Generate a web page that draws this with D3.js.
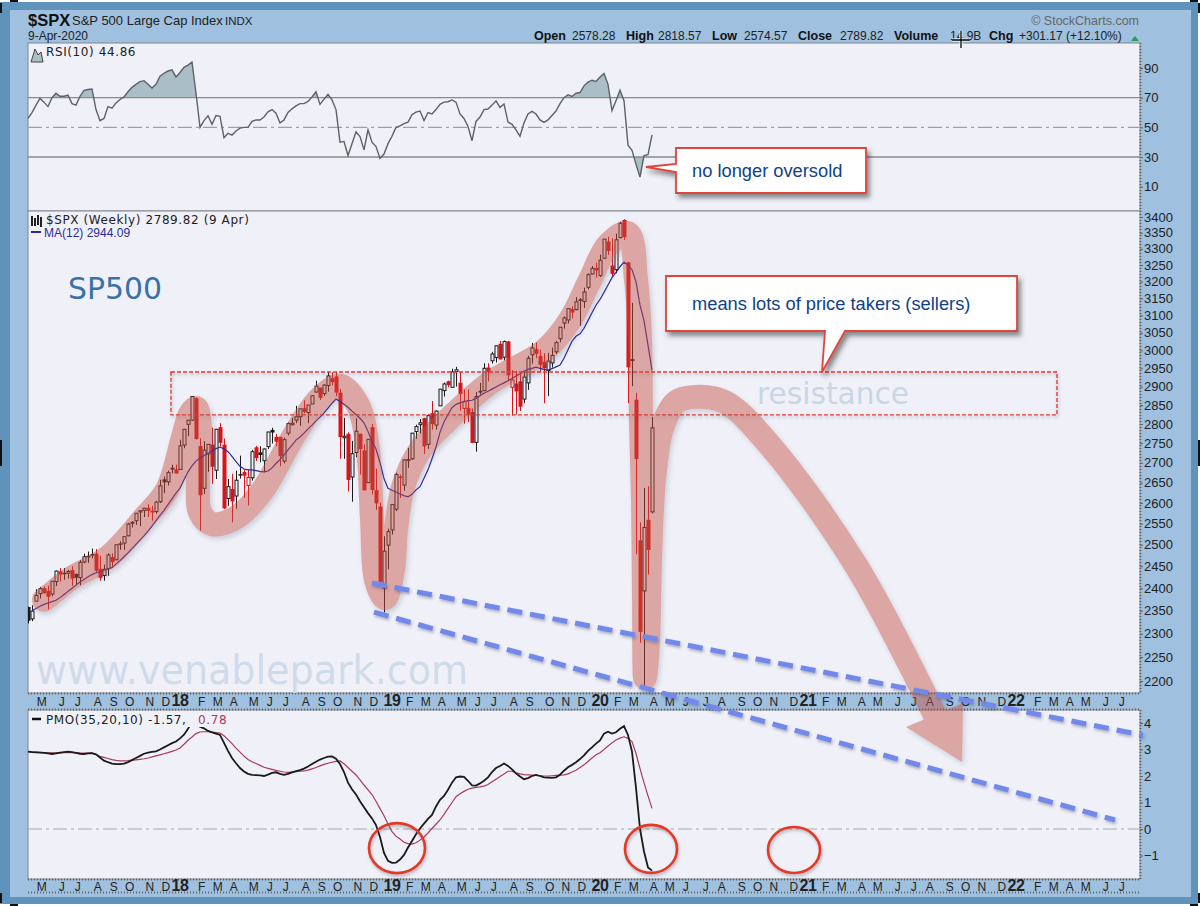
<!DOCTYPE HTML>
<html>
	<head>
		<title>$SPX weekly</title>
		<script src="https://cdnjs.cloudflare.com/ajax/libs/d3/7.8.5/d3.min.js" charset="utf-8"></script>
		<style type="text/css">
			html, body { margin: 0; background: #fff; }
			svg { display: block; }
			text { font-family: 'Liberation Sans', Arial, sans-serif; }
			.axis text { font-size: 13px; fill: #222; }
			.axis line { stroke: #666; }
			.axis path { display: none; }
			.months text { font-size: 12px; fill: #222; letter-spacing: 0.5px; }
			.months text.year { font-size: 16px; font-weight: bold; letter-spacing: -0.5px; }
			.legend { font-family: 'DejaVu Sans', sans-serif; font-size: 12px; letter-spacing: 0.6px; fill: #222; }
		</style>
	</head>
	<body>
	<svg id="chart" width="1200" height="906"></svg>

	<script type="text/javascript">
		// weekly bars, 10 Apr 2017 to 6 Apr 2020 (rows: 2017, 2018, 2019, 2020)
		var opens = [
			2357,2332,2371,2388,2399,2393,2387,2415,2437,2434,2434,2440,2431,2424,2460,2473,2477,2478,2443,2429,2445,2470,2465,2502,2504,2521,2551,2557,2578,2582,2587,2580,2579,2603,2657,2652,2686,2682,
			2683,2745,2799,2810,2867,2741,2636,2722,2745,2681,2790,2745,2611,2633,2617,2670,2675,2643,2662,2738,2725,2705,2741,2783,2765,2765,2704,2776,2798,2810,2819,2840,2830,2853,2885,2896,2881,2903,2921,2926,2882,2764,2773,2664,2726,2773,2730,2650,2790,2630,2590,2400,2499,
			2535,2585,2664,2644,2706,2710,2780,2798,2814,2747,2827,2797,2848,2889,2913,2898,2941,2909,2841,2841,2830,2752,2885,2889,2951,2971,2980,3017,2981,3024,2898,2907,2913,2866,2910,2988,3002,2983,2967,2944,2965,2996,3033,3078,3087,3117,3117,3144,3141,3183,3223,3240,
			3218,3271,3321,3247,3236,3335,3389,3257,2974,2863,2509,2394,2558,2578.28];
		var highs = [
			2359,2362,2398,2403,2404,2406,2416,2440,2446,2446,2442,2450,2434,2464,2479,2484,2491,2490,2474,2454,2480,2480,2500,2508,2519,2552,2556,2575,2582,2588,2597,2593,2605,2657,2665,2680,2695,2695,
			2759,2787,2810,2873,2870,2763,2755,2747,2790,2787,2802,2762,2659,2672,2680,2718,2683,2683,2733,2743,2742,2736,2779,2790,2774,2765,2764,2804,2816,2848,2841,2863,2850,2877,2916,2896,2906,2940,2939,2940,2894,2816,2778,2756,2815,2775,2747,2760,2800,2685,2601,2520,2538,
			2597,2675,2670,2709,2738,2776,2798,2813,2816,2826,2861,2836,2893,2911,2916,2949,2954,2940,2892,2892,2841,2885,2910,2964,2964,2996,3013,3027,3028,3027,2945,2943,2939,2940,2985,3021,3022,3002,2992,2993,3008,3027,3066,3097,3120,3127,3154,3151,3182,3225,3247,3258,
			3282,3330,3338,3333,3347,3385,3393,3260,3137,2883,2553,2637,2641,2818.57];
		var lows = [
			2322,2327,2371,2377,2388,2353,2382,2405,2415,2419,2422,2405,2407,2407,2457,2458,2468,2437,2417,2417,2428,2446,2464,2488,2488,2520,2541,2547,2544,2566,2566,2557,2574,2600,2624,2643,2673,2673,
			2682,2737,2768,2808,2759,2533,2622,2677,2647,2659,2741,2585,2593,2553,2586,2660,2612,2594,2655,2704,2701,2676,2735,2749,2742,2691,2698,2770,2796,2802,2795,2828,2802,2853,2884,2864,2874,2886,2903,2874,2710,2710,2628,2603,2714,2670,2631,2649,2621,2583,2408,2346,2443,
			2524,2580,2612,2630,2687,2707,2761,2775,2722,2735,2785,2785,2848,2873,2898,2898,2900,2835,2801,2805,2750,2728,2878,2887,2914,2963,2966,2975,2972,2914,2822,2825,2834,2855,2891,2963,2978,2938,2855,2874,2952,2990,3023,3062,3077,3091,3115,3070,3122,3177,3222,3212,
			3214,3270,3281,3214,3225,3332,3328,2855,2901,2478,2280,2191,2431,2574.57];
		var closes = [
			2329,2349,2384,2399,2390,2382,2416,2439,2432,2433,2438,2423,2425,2459,2472,2472,2477,2441,2425,2443,2476,2461,2500,2502,2519,2549,2553,2575,2581,2587,2582,2578,2602,2642,2652,2675,2684,2674,
			2743,2786,2810,2873,2762,2620,2732,2747,2691,2786,2752,2588,2640,2605,2656,2670,2669,2663,2728,2713,2721,2735,2779,2779,2755,2718,2759,2801,2802,2819,2840,2833,2850,2875,2901,2871,2904,2929,2914,2885,2767,2768,2658,2723,2781,2736,2632,2760,2633,2600,2416,2485,2531,
			2596,2670,2664,2707,2708,2776,2793,2803,2743,2822,2801,2834,2893,2907,2905,2940,2946,2881,2860,2826,2752,2873,2887,2950,2941,2990,3013,2976,3025,2932,2918,2888,2847,2926,2978,3007,2992,2961,2952,2970,2986,3022,3066,3093,3120,3110,3140,3146,3169,3221,3240,3235,
			3265,3330,3295,3225,3328,3380,3338,2954,2972,2711,2305,2541,2489,2789.82];

		var ma12 = [
			null,2350,2355,2360,2364,2367,2370,2373,2379,2386,2393,2400,2407,2414,2420,2426,2431,2435,2438,2441,
			2444,2447,2455,2463,2472,2481,2491,2501,2511,2521,2532,2544,2557,2570,2582,2596,2610,2624,2636,2657,
			2677,2692,2704,2712,2718,2724,2730,2736,2740,2735,2728,2716,2703,2691,2684,2682,2682,2680,2678,2677,
			2679,2687,2698,2708,2720,2733,2745,2758,2766,2776,2787,2797,2808,2818,2829,2842,2855,2866,2860,2852,
			2844,2834,2825,2815,2803,2780,2755,2735,2700,2660,2636,2631,2627,2622,2618,2615,2621,2632,2640,2661,
			2682,2710,2740,2778,2805,2825,2843,2852,2856,2859,2862,2863,2868,2875,2882,2887,2893,2899,2905,2910,
			2916,2922,2929,2935,2942,2947,2950,2953,2950,2947,2945,2949,2954,2959,2978,3002,3026,3040,3047,3063,
			3085,3108,3130,3147,3168,3190,3212,3228,3245,3259,3250,3236,3200,3130,3085,3015,2944.09];

		var rsi10 = [
			56,60,65,69.5,67,64,70,73,71,71,71.8,66,65,71,75,75.5,75.8,62,54.5,56,
			64,63,66.5,68.8,70.5,74,77,79,80.8,81.5,79,76.5,79,84.5,86.5,88,88.8,84,87,90.5,
			92,94,73,50,54.5,57.8,52,58,57.5,43,46,44.8,47.5,49.5,50,50,54,55,55,57,
			60.5,62,59.5,53,55,60,62.5,64.5,66,66,67.5,70.5,74,65.5,69,72.3,68.5,62,40,40.5,
			31,39,47,43.8,34.8,48.3,40,37,29,32,39,44,50,51,52.5,53.5,58.5,60.3,61,54.6,
			60,59,62,65.5,67,67.3,68.5,67,59,56,50.6,41,54,57,62,62.4,65,67.8,63.5,65.8,
			53.5,52,48.3,44,53,59,60.8,59,55,53.3,55,58,61,66,70,72,70.8,73,73.5,78,
			80.5,81.8,81,84,86.3,79,61.3,68,75,68,38,34.5,25,16.4,31,31.6,44.86];
		var rsiTicks = [90, 70, 50, 30, 10];

		var pmoLine = [
			2.92,2.9,2.89,2.88,2.87,2.85,2.83,2.85,2.88,2.9,2.92,2.9,2.87,2.84,2.83,2.85,2.86,2.82,2.7,2.58,
			2.52,2.47,2.45,2.45,2.47,2.52,2.6,2.68,2.76,2.84,2.88,2.91,2.93,3.0,3.08,3.16,3.24,3.3,3.42,3.56,
			3.78,4.05,4.25,3.86,3.8,3.7,3.65,3.6,3.55,3.25,2.95,2.68,2.48,2.3,2.17,2.08,2.04,2.03,2.02,2.0,
			2.05,2.12,2.14,2.08,2.04,2.08,2.14,2.18,2.22,2.28,2.36,2.45,2.54,2.62,2.68,2.73,2.74,2.65,2.45,2.15,
			1.75,1.5,1.3,1.05,0.82,0.6,0.4,0.15,-0.3,-0.9,-1.2,-1.28,-1.27,-1.15,-0.98,-0.7,-0.45,-0.2,0.02,0.2,
			0.38,0.53,0.85,1.1,1.25,1.48,1.75,1.95,1.98,1.97,1.82,1.65,1.64,1.72,1.82,1.95,2.15,2.3,2.38,2.47,
			2.38,2.25,2.1,1.98,1.88,1.92,2.0,2.04,2.0,1.95,1.94,1.93,1.95,2.05,2.2,2.33,2.42,2.52,2.64,2.78,
			2.95,3.08,3.22,3.34,3.6,3.67,3.6,3.65,3.78,3.88,3.55,2.92,1.55,0.0,-0.85,-1.45,-1.57];
		var pmoSignal = [
			2.92,2.91,2.9,2.89,2.88,2.87,2.87,2.87,2.87,2.88,2.88,2.88,2.87,2.86,2.86,2.86,2.86,2.8,2.74,2.7,
			2.66,2.62,2.59,2.57,2.57,2.58,2.6,2.61,2.63,2.65,2.68,2.72,2.76,2.8,2.84,2.88,2.93,2.98,3.06,3.2,
			3.35,3.47,3.6,3.66,3.67,3.67,3.66,3.64,3.62,3.52,3.37,3.22,3.05,2.9,2.75,2.62,2.54,2.47,2.4,2.33,
			2.29,2.25,2.21,2.18,2.15,2.14,2.15,2.16,2.18,2.19,2.22,2.27,2.32,2.38,2.44,2.48,2.52,2.55,2.57,2.46,
			2.32,2.18,2.04,1.85,1.66,1.48,1.3,1.05,0.77,0.5,0.2,-0.1,-0.27,-0.38,-0.5,-0.55,-0.57,-0.52,-0.42,-0.3,
			-0.15,0.02,0.18,0.34,0.55,0.78,1.0,1.22,1.33,1.42,1.5,1.54,1.57,1.59,1.62,1.68,1.78,1.88,1.98,2.08,
			2.18,2.18,2.12,2.08,2.05,2.04,2.03,2.02,2.01,2.0,2.0,2.01,2.02,2.03,2.04,2.08,2.15,2.22,2.32,2.42,
			2.55,2.68,2.8,2.88,3.0,3.13,3.25,3.36,3.43,3.48,3.42,3.3,2.85,2.28,1.75,1.25,0.78];
		var pmoTicks = [4, 3, 2, 1, 0, -1];
		var priceTicks = d3.range(2200, 3401, 50);

		// annotations drawn on top of the chart, as [week number, price]
		var bandPath = [[4,2374],[7,2396],[11,2424],[20,2471],[29.25,2566],[34.75,2632],[38.75,2766],[40.5,2826],[42,2842],[43,2784],[42.5,2657],[43,2578],[46,2549],[52.25,2566],[58.5,2629],[66.25,2766],[73,2869],[78,2902],[82.5,2850],[85,2732],[86,2559],[87,2419],[89.25,2378],[91.25,2442],[92,2535],[93.75,2639],[98,2732],[106,2821],[115.5,2910],[129.25,3001],[135.5,3087],[140.5,3205],[145,3312],[150,3349],[152,3205],[153,3029],[153.25,2810],[153.75,2607],[154,2374],[154.25,2208],[155,2286],[155.5,2465],[156.5,2657],[158.5,2789],[162,2858],[166.75,2872],[174.25,2858],[185,2750],[207.25,2448],[229.25,2090]];
		var arrowHead = [[219.5,2107],[233.5,2039],[233.75,2155]];
		var trendLines = [[[86,2412],[278.75,2091]], [[86.5,2347],[271.75,1931]]];
		var resistanceZone = {from: 35.75, to: 257.25, top: 2940, bottom: 2824};
		var pmoCircles = [[92.25,-0.72,28,25], [155.75,-0.75,26,24], [191.5,-0.79,26,23]];

		var headerLabels = ["Open", "High", "Low", "Close", "Volume", "Chg"];
		var headerValues = ["2578.28", "2818.57", "2574.57", "2789.82", "14.9B", "+301.17 (+12.10%)"];
		var headerX = [534, 626, 712, 798, 894, 989];
		var headerValueX = [572, 658, 744, 840, 950, 1019];

		var LEFT = 28, RIGHT = 1140;
		var RSI_TOP = 43, RSI_BOTTOM = 211;
		var PRICE_BOTTOM = 693;
		var PMO_TOP = 710, PMO_BOTTOM = 879;

		var svg = d3.select("#chart");
		var defs = svg.append("defs");

		var shadow = defs.append("filter").attr("id", "shadow")
			.attr("x", "-10%").attr("y", "-10%").attr("width", "125%").attr("height", "125%")
			.attr("filterUnits", "objectBoundingBox");
		shadow.append("feDropShadow").attr("dx", 2).attr("dy", 3).attr("stdDeviation", 2.5)
			.attr("flood-color", "#444a66").attr("flood-opacity", 0.45);
		var lineShadow = defs.append("filter").attr("id", "shadow-line").attr("filterUnits", "userSpaceOnUse")
			.attr("x", 0).attr("y", 0).attr("width", 1200).attr("height", 906);
		lineShadow.append("feDropShadow").attr("dx", 1).attr("dy", 2).attr("stdDeviation", 1.5)
			.attr("flood-color", "#444a66").attr("flood-opacity", 0.4);
		var boxShadow = defs.append("filter").attr("id", "shadow-box").attr("filterUnits", "userSpaceOnUse")
			.attr("x", 0).attr("y", 0).attr("width", 1200).attr("height", 906);
		boxShadow.append("feDropShadow").attr("dx", 3).attr("dy", 4).attr("stdDeviation", 2.5)
			.attr("flood-color", "#333").attr("flood-opacity", 0.55);
		defs.append("clipPath").attr("id", "price-panel").append("rect")
			.attr("x", LEFT).attr("y", RSI_BOTTOM).attr("width", RIGHT - LEFT).attr("height", PRICE_BOTTOM - RSI_BOTTOM);

		// scales
		var firstWeek = new Date(2017, 3, 10);
		var x = d3.scaleTime().domain([firstWeek, d3.timeMonday.offset(firstWeek, 278)]).range([LEFT, RIGHT]);
		var xWeek = d3.scaleLinear().domain([0, 278]).range([LEFT, RIGHT]);
		var yRsi = d3.scaleLinear().domain([70, 30]).range([97.7, 157]);
		var yPrice = d3.scaleLog().domain([3400, 2200]).range([217, 681]);
		var yPmo = d3.scaleLinear().domain([4, -1]).range([723, 855.5]);

		// frame
		svg.append("rect").attr("x", 0).attr("y", 2).attr("width", 1198).attr("height", 902).attr("fill", "#5f93bb");
		svg.append("rect").attr("x", 10).attr("y", 10).attr("width", 1181).attr("height", 887).attr("fill", "#9fc0df");

		// panels
		[[RSI_TOP, RSI_BOTTOM], [RSI_BOTTOM, PRICE_BOTTOM], [PMO_TOP, PMO_BOTTOM]].forEach(function (p) {
			svg.append("rect").attr("x", LEFT).attr("y", p[0]).attr("width", RIGHT - LEFT).attr("height", p[1] - p[0])
				.attr("fill", "#f0f1f8").attr("stroke", "#80858f").attr("stroke-width", 1);
		});

		// right-hand axes
		function rightAxis(scale, ticks, fmt) {
			var g = svg.append("g").attr("class", "axis").attr("transform", "translate(" + RIGHT + ",0)")
				.call(d3.axisRight(scale).tickValues(ticks).tickSize(3).tickPadding(1).tickFormat(fmt));
			return g;
		}
		rightAxis(yRsi, rsiTicks, d3.format("d"));
		rightAxis(yPrice, priceTicks, d3.format("d"));
		rightAxis(yPmo, pmoTicks, d3.format("d"));
		[[RSI_TOP, PRICE_BOTTOM], [PMO_TOP, PMO_BOTTOM]].forEach(function (p) {
			svg.append("line").attr("x1", RIGHT + 0.5).attr("x2", RIGHT + 0.5).attr("y1", p[0]).attr("y2", p[1])
				.attr("stroke", "#666").attr("stroke-width", 2).attr("stroke-dasharray", "1,2");
		});

		// month bands
		var monthStarts = d3.timeMonth.range(new Date(2017, 4, 1), new Date(2022, 6, 2));
		var monthLetter = d3.timeFormat("%b");
		var yearFormat = d3.timeFormat("%y");
		function monthAxis(top) {
			var height = top == PRICE_BOTTOM ? PMO_TOP - PRICE_BOTTOM : 14;
			[top + 0.5, top + height - 0.5].forEach(function (yy) {
				svg.append("line").attr("x1", LEFT).attr("x2", RIGHT).attr("y1", yy).attr("y2", yy)
					.attr("stroke", "#666").attr("stroke-width", 2).attr("stroke-dasharray", "1,2");
			});
			var g = svg.append("g").attr("class", "months");
			g.selectAll("text").data(monthStarts).enter().append("text")
				.attr("class", function (d) { return d.getMonth() == 0 ? "year" : "month"; })
				.attr("text-anchor", "middle")
				.attr("x", function (d) {
					return x(d3.timeMonday.ceil(d)) + (d.getMonth() == 0 ? 0 : 2);
				})
				.attr("y", top == PRICE_BOTTOM ? top + 13 : top + 12)
				.text(function (d) { return d.getMonth() == 0 ? yearFormat(d) : monthLetter(d)[0]; });
		}
		monthAxis(PRICE_BOTTOM);
		monthAxis(PMO_BOTTOM);

		// watermark and big labels
		svg.append("text").attr("x", 36).attr("y", 684).attr("textLength", 432).attr("lengthAdjust", "spacingAndGlyphs")
			.style("font-family", "'DejaVu Sans'").style("font-size", "40px").attr("fill", "#cfdbe9").text("www.venablepark.com");
		svg.append("text").attr("x", 68).attr("y", 299).attr("textLength", 94).attr("lengthAdjust", "spacingAndGlyphs")
			.style("font-family", "'DejaVu Sans'").style("font-size", "30px").attr("fill", "#3a72a8").text("SP500");

		// RSI
		var weekIdx = d3.range(closes.length);
		var rsiClip = defs.append("clipPath").attr("id", "rsi-over");
		rsiClip.append("rect").attr("x", LEFT).attr("width", RIGHT - LEFT).attr("y", RSI_TOP).attr("height", yRsi(70) - RSI_TOP);
		var rsiClip2 = defs.append("clipPath").attr("id", "rsi-under");
		rsiClip2.append("rect").attr("x", LEFT).attr("width", RIGHT - LEFT).attr("y", yRsi(30)).attr("height", RSI_BOTTOM - yRsi(30));
		[["rsi-over", 70], ["rsi-under", 30]].forEach(function (c) {
			svg.append("path").attr("clip-path", "url(#" + c[0] + ")").attr("fill", "#a9bec6")
				.attr("d", d3.area().x(function (i) { return xWeek(i); }).y0(yRsi(c[1]))
					.y1(function (i) { return yRsi(rsi10[i]); })(weekIdx));
		});
		[70, 30].forEach(function (v) {
			svg.append("line").attr("x1", LEFT).attr("x2", RIGHT).attr("y1", yRsi(v)).attr("y2", yRsi(v))
				.attr("stroke", "#8a8a8a").attr("stroke-width", 1.3);
		});
		svg.append("line").attr("x1", LEFT).attr("x2", RIGHT).attr("y1", yRsi(50)).attr("y2", yRsi(50))
			.attr("stroke", "#a0a0a0").attr("stroke-width", 1.2).attr("stroke-dasharray", "14,4,3,4");
		svg.append("path").attr("fill", "none").attr("stroke", "#5c6266").attr("stroke-width", 1.4)
			.attr("d", d3.line().x(function (i) { return xWeek(i); }).y(function (i) { return yRsi(rsi10[i]); })(weekIdx));

		// candles
		var candle = svg.append("g").attr("clip-path", "url(#price-panel)").selectAll("g").data(weekIdx).enter().append("g")
			.attr("stroke", function (i) {
				return i > 0 && closes[i] < closes[i - 1] ? "#d81519" : "#1a1a1a";
			});
		candle.append("line")
			.attr("x1", function (i) { return Math.round(xWeek(i)) + 0.5; })
			.attr("x2", function (i) { return Math.round(xWeek(i)) + 0.5; })
			.attr("y1", function (i) { return yPrice(highs[i]); })
			.attr("y2", function (i) { return yPrice(lows[i]); });
		candle.append("rect")
			.attr("x", function (i) { return Math.round(xWeek(i)) - 1; })
			.attr("width", 3)
			.attr("y", function (i) { return yPrice(Math.max(opens[i], closes[i])); })
			.attr("height", function (i) { return Math.max(Math.abs(yPrice(opens[i]) - yPrice(closes[i])), 0.5); })
			.attr("stroke-width", 1)
			.attr("fill", function (i) {
				if (closes[i] >= opens[i]) return "#f0f1f8";
				return i > 0 && closes[i] < closes[i - 1] ? "#d81519" : "#1a1a1a";
			});

		// MA(12)
		svg.append("path").attr("fill", "none").attr("stroke", "#2a2a9c").attr("stroke-width", 1.2)
			.attr("d", d3.line().defined(function (i) { return ma12[i] != null; })
				.x(function (i) { return xWeek(i); }).y(function (i) { return yPrice(ma12[i]); })(weekIdx));

		// PMO
		svg.append("line").attr("x1", LEFT).attr("x2", RIGHT).attr("y1", yPmo(0)).attr("y2", yPmo(0))
			.attr("stroke", "#aaaaaa").attr("stroke-width", 1.2).attr("stroke-dasharray", "14,4,3,4");
		svg.append("path").attr("fill", "none").attr("stroke", "#a83a5c").attr("stroke-width", 1.2)
			.attr("d", d3.line().x(function (i) { return xWeek(i); }).y(function (i) { return yPmo(pmoSignal[i]); })(weekIdx));
		svg.append("path").attr("fill", "none").attr("stroke", "#1a1a1a").attr("stroke-width", 1.8)
			.attr("d", d3.line().x(function (i) { return xWeek(i); }).y(function (i) { return yPmo(pmoLine[i]); })(weekIdx));

		// legends
		svg.append("rect").attr("x", LEFT + 1).attr("y", 711).attr("width", 199).attr("height", 16).attr("fill", "#f0f1f8");
		svg.append("path").attr("d", "M31,62 L35,49 L38,55 L41,52 L43,62 Z").attr("fill", "#a9bec6").attr("stroke", "#444").attr("stroke-width", 1);
		svg.append("text").attr("class", "legend").attr("x", 46).attr("y", 56).text("RSI(10) 44.86");
		svg.append("path").attr("d", "M32,216 V226 M35,218 V226 M38,215 V225 M41,217 V227").attr("stroke", "#222").attr("stroke-width", 2);
		svg.append("text").attr("class", "legend").attr("x", 46).attr("y", 224).text("$SPX (Weekly) 2789.82 (9 Apr)");
		svg.append("line").attr("x1", 31).attr("x2", 41).attr("y1", 232).attr("y2", 232).attr("stroke", "#2a2a9c").attr("stroke-width", 2);
		svg.append("text").attr("x", 44).attr("y", 237).attr("fill", "#2a2a9c").style("font-size", "12px").text("MA(12) 2944.09");
		svg.append("line").attr("x1", 32).attr("x2", 41).attr("y1", 719).attr("y2", 719).attr("stroke", "#111").attr("stroke-width", 2.5);
		svg.append("text").attr("class", "legend").attr("x", 46).attr("y", 724).text("PMO(35,20,10) -1.57,");
		svg.append("text").attr("class", "legend").attr("x", 198).attr("y", 724).style("fill", "#a83a5c").text("0.78");

		// header
		svg.append("text").attr("x", 28).attr("y", 26).style("font-size", "16.5px").style("font-weight", "bold").attr("fill", "#111").text("$SPX");
		svg.append("text").attr("x", 72).attr("y", 25).style("font-size", "13px").attr("fill", "#222").text("S&P 500 Large Cap Index");
		svg.append("text").attr("x", 225).attr("y", 25).style("font-size", "11.5px").attr("fill", "#222").text("INDX");
		svg.append("text").attr("x", 28).attr("y", 40).style("font-size", "12px").attr("fill", "#222").text("9-Apr-2020");
		svg.append("text").attr("x", 1139).attr("y", 25).attr("text-anchor", "end").style("font-size", "12.5px").attr("fill", "#666").text("\u00a9 StockCharts.com");
		headerLabels.forEach(function (label, i) {
			svg.append("text").attr("x", headerX[i]).attr("y", 40).style("font-size", "12.5px").style("font-weight", "bold").attr("fill", "#111").text(label);
			svg.append("text").attr("x", headerValueX[i]).attr("y", 40).style("font-size", "12px").attr("fill", "#222").text(headerValues[i]);
		});
		svg.append("path").attr("d", "M1131,41 L1139,41 L1135,36 Z").attr("fill", "#2f9a55");
		svg.append("path").attr("d", "M952,40 H970 M961,31 V48").attr("stroke", "#fff").attr("stroke-width", 3);
		svg.append("path").attr("d", "M952,40 H970 M961,31 V48").attr("stroke", "#000").attr("stroke-width", 1.3);

		// resistance zone
		svg.append("rect")
			.attr("x", xWeek(resistanceZone.from)).attr("width", xWeek(resistanceZone.to) - xWeek(resistanceZone.from))
			.attr("y", yPrice(resistanceZone.top)).attr("height", yPrice(resistanceZone.bottom) - yPrice(resistanceZone.top))
			.attr("fill", "none")
			.attr("stroke", "#e03a32").attr("stroke-width", 1.4).attr("stroke-dasharray", "4,2")
			.attr("filter", "url(#shadow-line)");
		svg.append("text").attr("x", 757).attr("y", 404).attr("textLength", 152).attr("lengthAdjust", "spacingAndGlyphs")
			.style("font-family", "'DejaVu Sans'").style("font-size", "30px").attr("fill", "#c8d6e5").text("resistance");

		// the thick arrow over the price
		var bandLine = d3.line().curve(d3.curveCatmullRom.alpha(0.5))
			.x(function (d) { return xWeek(d[0]); }).y(function (d) { return yPrice(d[1]); });
		var bandGroup = svg.append("g").attr("opacity", 0.46).attr("filter", "url(#shadow)");
		bandGroup.append("path").attr("d", bandLine(bandPath)).attr("fill", "none")
			.attr("stroke", "#c4503f").attr("stroke-width", 24).attr("stroke-linejoin", "round").attr("stroke-linecap", "round");
		bandGroup.append("path").attr("fill", "#c4503f")
			.attr("d", d3.line().x(function (d) { return xWeek(d[0]); }).y(function (d) { return yPrice(d[1]); })(arrowHead) + "Z");

		// down trend lines
		svg.selectAll(".trend").data(trendLines).enter().append("line").attr("class", "trend")
			.attr("x1", function (d) { return xWeek(d[0][0]); }).attr("y1", function (d) { return yPrice(d[0][1]); })
			.attr("x2", function (d) { return xWeek(d[1][0]); }).attr("y2", function (d) { return yPrice(d[1][1]); })
			.attr("stroke", "#7289ea").attr("stroke-width", 5).attr("stroke-dasharray", "15,8")
			.attr("filter", "url(#shadow-line)");

		// PMO circles
		svg.selectAll(".ring").data(pmoCircles).enter().append("ellipse").attr("class", "ring")
			.attr("cx", function (d) { return xWeek(d[0]); }).attr("cy", function (d) { return yPmo(d[1]); })
			.attr("rx", function (d) { return d[2]; }).attr("ry", function (d) { return d[3]; })
			.attr("fill", "none").attr("stroke", "#e23a22").attr("stroke-width", 2.6)
			.attr("filter", "url(#shadow-line)");

		// callouts
		function callout(shape, label, textX, textY) {
			svg.append("path").attr("d", shape)
				.attr("fill", "#ffffff").attr("stroke", "#e0443c").attr("stroke-width", 1.8).attr("filter", "url(#shadow-box)");
			svg.append("text").attr("x", textX).attr("y", textY).style("font-size", "18.3px").attr("fill", "#0f4288").text(label);
		}
		callout("M676,148 H866 V193 H676 V172 L646,167 L676,164 Z", "no longer oversold", 692, 177);
		callout("M666,276 H1017 V331 H845 L822,372 L825,331 H666 Z", "means lots of price takers (sellers)", 692, 310);

		// selection handles left on the screenshot's edge
		[[0,3,2,10],[10,0,8,2],[1190,0,8,2],[1198,3,2,10],[0,440,2,26],[1198,440,2,26],[0,893,2,10],[10,904,8,2],[1190,904,8,2],[1198,893,2,10]].forEach(function (h) {
			svg.append("rect").attr("x", h[0]).attr("y", h[1]).attr("width", h[2]).attr("height", h[3]).attr("fill", "#111");
		});
	</script>
	</body>
</html>
